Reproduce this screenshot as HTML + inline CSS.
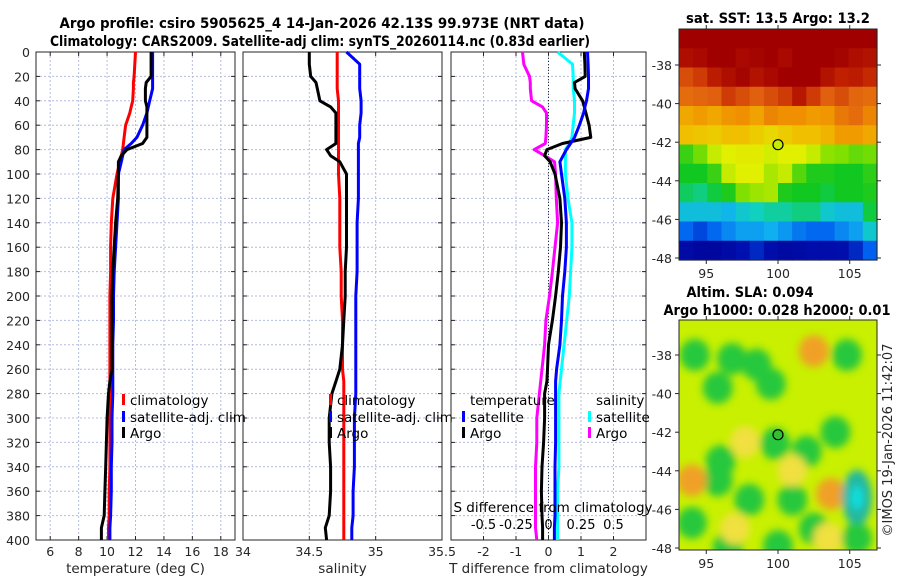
<!DOCTYPE html>
<html><head><meta charset="utf-8"><style>
body{margin:0;background:#fff}
svg{display:block;font-family:"DejaVu Sans","Liberation Sans",sans-serif}
</style></head><body>
<svg id="fig" width="900" height="580" viewBox="0 0 900 580">
<g id="titles" font-weight="bold" font-size="14" fill="#000" text-anchor="middle">
<text x="322" y="28" textLength="525" lengthAdjust="spacingAndGlyphs">Argo profile: csiro 5905625_4 14-Jan-2026 42.13S 99.973E (NRT data)</text>
<text x="320" y="46" textLength="540" lengthAdjust="spacingAndGlyphs">Climatology: CARS2009. Satellite-adj clim: synTS_20260114.nc (0.83d earlier)</text>
<text x="778" y="23" textLength="184" lengthAdjust="spacingAndGlyphs">sat. SST: 13.5 Argo: 13.2</text>
<text x="750" y="297" textLength="127" lengthAdjust="spacingAndGlyphs">Altim. SLA: 0.094</text>
<text x="777" y="315" textLength="227" lengthAdjust="spacingAndGlyphs">Argo h1000: 0.028 h2000: 0.01</text>
</g>
<text x="0" y="0" transform="translate(892,440) rotate(-90)" text-anchor="middle" font-size="13" fill="#262626">©IMOS 19-Jan-2026 11:42:07</text>
<g id="plots"></g>
</svg>
<script>
// ---------- data ----------
const depths = [0,10,20,25,30,40,45,50,60,70,75,80,85,90,100,120,140,160,180,200,220,240,260,270,280,300,320,340,360,380,390,400];
const tempClim = [12.0,11.95,11.9,11.85,11.85,11.8,11.7,11.6,11.3,11.2,11.15,11.1,11.0,10.9,10.7,10.4,10.3,10.25,10.25,10.2,10.2,10.2,10.2,10.2,10.2,10.2,10.2,10.2,10.15,10.15,10.1,10.1];
const tempSat = [13.2,13.2,13.2,13.2,13.2,13.0,12.9,12.8,12.5,12.1,11.7,11.2,11.1,11.0,10.8,10.8,10.7,10.6,10.5,10.45,10.45,10.4,10.4,10.4,10.4,10.35,10.35,10.3,10.3,10.25,10.2,10.2];
const tempArgo = [13.1,13.1,13.1,12.75,12.7,12.7,12.8,12.8,12.8,12.8,12.5,11.4,11.0,10.8,10.8,10.75,10.6,10.5,10.4,10.35,10.35,10.35,10.35,10.2,10.1,10.0,9.95,9.9,9.85,9.8,9.6,9.6];
const salClim = [34.71,34.71,34.71,34.71,34.71,34.72,34.72,34.72,34.72,34.72,34.72,34.72,34.72,34.72,34.72,34.73,34.73,34.73,34.74,34.74,34.75,34.75,34.75,34.76,34.76,34.76,34.76,34.76,34.76,34.76,34.76,34.76];
const salSat = [34.78,34.88,34.88,34.88,34.88,34.89,34.89,34.89,34.88,34.88,34.87,34.87,34.87,34.87,34.87,34.87,34.86,34.86,34.86,34.85,34.85,34.85,34.85,34.85,34.85,34.84,34.84,34.84,34.83,34.83,34.82,34.82];
const salArgo = [34.5,34.5,34.51,34.55,34.56,34.58,34.66,34.7,34.7,34.7,34.7,34.63,34.66,34.73,34.78,34.78,34.78,34.78,34.77,34.77,34.76,34.75,34.73,34.7,34.67,34.65,34.65,34.66,34.66,34.65,34.62,34.63];
const tDiffSat = [1.2,1.22,1.23,1.23,1.23,1.17,1.12,1.08,0.95,0.8,0.68,0.55,0.45,0.35,0.4,0.5,0.55,0.55,0.5,0.43,0.4,0.35,0.25,0.22,0.22,0.22,0.22,0.2,0.2,0.2,0.18,0.18];
const tDiffArgo = [1.1,1.12,1.13,0.8,0.82,1.05,1.1,1.15,1.25,1.3,0.43,-0.05,-0.12,0.05,0.2,0.35,0.4,0.37,0.3,0.22,0.12,0.0,-0.03,-0.05,-0.12,-0.12,-0.15,-0.2,-0.22,-0.2,-0.18,-0.18];
const sDiffSat = [0.07,0.185,0.19,0.19,0.19,0.2,0.2,0.2,0.19,0.18,0.16,0.13,0.13,0.13,0.13,0.15,0.18,0.18,0.17,0.16,0.14,0.12,0.1,0.09,0.08,0.08,0.08,0.08,0.07,0.07,0.07,0.07];
const sDiffArgo = [-0.2,-0.19,-0.146,-0.14,-0.14,-0.13,-0.046,-0.015,-0.015,-0.02,-0.025,-0.11,-0.03,0.046,0.055,0.06,0.07,0.05,0.03,0.008,-0.02,-0.03,-0.05,-0.06,-0.07,-0.09,-0.09,-0.1,-0.1,-0.1,-0.1,-0.09];
const depthTicks = [0,20,40,60,80,100,120,140,160,180,200,220,240,260,280,300,320,340,360,380,400];
const tempTicks = [6,8,10,12,14,16,18];
const salTicks = [34,34.5,35,35.5];
const tdTicks = [-2,-1,0,1,2];
const sdTicks = [-0.5,-0.25,0,0.25,0.5];
const latTicks = [-38,-40,-42,-44,-46,-48];
const lonTicks = [95,100,105];
// SST map: rows from north (-36.1) to south, 14 columns (93.1E..106.9E), colour index 0..1
const sstGrid = [
[1,1,1,1,1,1,1,1,1,1,1,1,1,1],
[0.97,0.98,1,1,0.98,0.99,1,0.98,1,1,1,0.99,0.97,0.96],
[0.88,0.9,0.94,0.97,0.99,0.96,0.98,1,1,1,0.96,0.93,0.94,0.92],
[0.84,0.85,0.86,0.9,0.88,0.86,0.88,0.9,0.95,0.9,0.86,0.88,0.85,0.84],
[0.74,0.76,0.74,0.77,0.78,0.75,0.8,0.78,0.78,0.76,0.77,0.82,0.84,0.8],
[0.7,0.69,0.68,0.7,0.7,0.68,0.66,0.68,0.7,0.7,0.72,0.76,0.76,0.74],
[0.5,0.54,0.6,0.62,0.63,0.63,0.61,0.62,0.62,0.6,0.56,0.55,0.53,0.54],
[0.47,0.47,0.5,0.6,0.62,0.62,0.58,0.6,0.52,0.48,0.48,0.47,0.47,0.49],
[0.45,0.44,0.46,0.48,0.55,0.57,0.58,0.48,0.47,0.47,0.46,0.47,0.47,0.48],
[0.38,0.38,0.38,0.36,0.4,0.42,0.43,0.43,0.44,0.44,0.4,0.38,0.38,0.46],
[0.26,0.22,0.26,0.3,0.33,0.33,0.35,0.32,0.28,0.26,0.26,0.3,0.33,0.4],
[0.1,0.07,0.07,0.1,0.15,0.18,0.12,0.08,0.1,0.12,0.12,0.13,0.18,0.25]];
// SLA map blobs
const slaLon = [94.2,96.8,95.8,98.5,102.5,96,97.7,99.8,102,104,95.8,98,101,103.7,104.8,105.5,94,96.5,100,94,102.5,103.5,97,101,105.5,99.5];
const slaLat = [-38,-38.2,-39.7,-38.5,-37.8,-43.5,-42.5,-42.6,-43,-42,-44.5,-45.5,-45.5,-45.2,-38,-45.4,-46.7,-48,-47.9,-44.5,-47,-47.5,-47,-44,-47.5,-39.5];
const slaKind = ['g','g','g','g','o','g','y','g','g','g','g','g','g','o','g','c','g','g','g','o','g','y','y','y','g','g'];

// ---------- helpers ----------
const NS='http://www.w3.org/2000/svg';
const root=document.getElementById('plots');
function mk(tag,attrs,parent){const e=document.createElementNS(NS,tag);for(const k in attrs)e.setAttribute(k,attrs[k]);(parent||root).appendChild(e);return e;}
const Y0=52,Y1=540;
function yD(d){return Y0+(d/400)*(Y1-Y0);}
function lin(d0,d1,p0,p1){return v=>p0+(v-d0)/(d1-d0)*(p1-p0);}

function panel(name,x0,x1,xs,ticks,labelFmt,xlabel,showY){
  const g=mk('g',{});
  
  
  depthTicks.forEach(d=>{if(d>0&&d<400)mk('line',{x1:x0,x2:x1,y1:yD(d),y2:yD(d),stroke:'#b4bce0','stroke-width':1,'stroke-dasharray':'2,2'},g);});
  ticks.forEach(t=>{const x=xs(t);if(x>x0+1&&x<x1-1)mk('line',{x1:x,x2:x,y1:Y0,y2:Y1,stroke:'#b4bce0','stroke-width':1,'stroke-dasharray':'2,2'},g);});
  mk('rect',{x:x0,y:Y0,width:x1-x0,height:Y1-Y0,fill:'none',stroke:'#262626','stroke-width':1},g);
  depthTicks.forEach(d=>{mk('line',{x1:x0,x2:x0+4,y1:yD(d),y2:yD(d),stroke:'#262626'},g);mk('line',{x1:x1-4,x2:x1,y1:yD(d),y2:yD(d),stroke:'#262626'},g);
    if(showY){const t=mk('text',{x:x0-6,y:yD(d)+5,'text-anchor':'end','font-size':12.5,fill:'#262626'},g);t.textContent=d;}});
  ticks.forEach(t=>{const x=xs(t);mk('line',{x1:x,x2:x,y1:Y1-4,y2:Y1,stroke:'#262626'},g);mk('line',{x1:x,x2:x,y1:Y0,y2:Y0+4,stroke:'#262626'},g);
    const tx=mk('text',{x:x,y:Y1+16,'text-anchor':'middle','font-size':12.5,fill:'#262626'},g);tx.textContent=labelFmt(t);});
  const xl=mk('text',{x:(x0+x1)/2,y:Y1+33,'text-anchor':'middle','font-size':13.5,fill:'#262626'},g);
  xl.textContent=xlabel;
  
  
  return g;
}
function series(g,name,vals,xs,color){
  const pts=vals.map((v,i)=>xs(v).toFixed(1)+','+yD(depths[i]).toFixed(1)).join(' ');
  const p=mk('polyline',{points:pts,fill:'none',stroke:color,'stroke-width':3,'stroke-linejoin':'round'},g);
  
  
}
function legend(g,x,y,color,label,name){
  const le=mk('g',{},g);
  
  
  mk('rect',{x:x,y:y-11,width:3,height:11,fill:color},le);
  const t=mk('text',{x:x+8,y:y,'font-size':13.5,fill:'#000'},le);t.textContent=label;
}

// Panel 1: temperature
const xT=lin(5,19,36,235);
const p1=panel('temperature-panel',36,235,xT,tempTicks,t=>t,'temperature (deg C)',true);
series(p1,'temp-climatology-line',tempClim,xT,'#ff0000');
series(p1,'temp-satellite-line',tempSat,xT,'#0000ff');
series(p1,'temp-argo-line',tempArgo,xT,'#000000');
legend(p1,122,405,'#ff0000','climatology','legend-climatology');
legend(p1,122,422,'#0000ff','satellite-adj. clim','legend-satellite');
legend(p1,122,438,'#000000','Argo','legend-argo');

// Panel 2: salinity
const xS=lin(34,35.5,243,442);
const p2=panel('salinity-panel',243,442,xS,salTicks,t=>t,'salinity',false);
series(p2,'sal-climatology-line',salClim,xS,'#ff0000');
series(p2,'sal-satellite-line',salSat,xS,'#0000ff');
series(p2,'sal-argo-line',salArgo,xS,'#000000');
legend(p2,329,405,'#ff0000','climatology','legend-climatology-sal');
legend(p2,329,422,'#0000ff','satellite-adj. clim','legend-satellite-sal');
legend(p2,329,438,'#000000','Argo','legend-argo-sal');

// Panel 3: differences
const xTD=lin(-3,3,451,646);
const xSD=lin(-0.75,0.75,451,646);
const p3=panel('difference-panel',451,646,xTD,tdTicks,t=>t,'T difference from climatology',false);
mk('line',{x1:xTD(0),x2:xTD(0),y1:Y0,y2:Y1,stroke:'#333','stroke-width':1,'stroke-dasharray':'1,2'},p3);
series(p3,'sdiff-argo-line',sDiffArgo,xSD,'#ff00ff');
series(p3,'sdiff-satellite-line',sDiffSat,xSD,'#00ffff');
series(p3,'tdiff-argo-line',tDiffArgo,xTD,'#000000');
series(p3,'tdiff-satellite-line',tDiffSat,xTD,'#0000ff');
{const t=mk('text',{x:470,y:405,'font-size':13.5,fill:'#000'},p3);t.textContent='temperature';
 const t2=mk('text',{x:596,y:405,'font-size':13.5,fill:'#000'},p3);t2.textContent='salinity';}
legend(p3,462,422,'#0000ff','satellite','legend-t-satellite');
legend(p3,462,438,'#000000','Argo','legend-t-argo');
legend(p3,588,422,'#00ffff','satellite','legend-s-satellite');
legend(p3,588,438,'#ff00ff','Argo','legend-s-argo');
{const t=mk('text',{x:553,y:512,'text-anchor':'middle','font-size':13.5,fill:'#000'},p3);t.textContent='S difference from climatology';
 
 
 sdTicks.forEach(s=>{const tx=mk('text',{x:xSD(s),y:529,'text-anchor':'middle','font-size':13,fill:'#000'},p3);tx.textContent=s;});}

// ---------- maps ----------
const cStops=[[0,[0,0,144]],[0.15,[0,16,176]],[0.25,[0,96,240]],[0.35,[16,176,240]],[0.42,[16,208,192]],[0.47,[16,200,32]],[0.55,[128,224,0]],[0.62,[224,240,0]],[0.7,[240,192,0]],[0.78,[240,144,0]],[0.86,[224,96,16]],[0.93,[192,32,0]],[1,[160,0,0]]];
function cmap(v){v=Math.max(0,Math.min(1,v));
  for(let i=1;i<cStops.length;i++){if(v<=cStops[i][0]){const a=cStops[i-1],b=cStops[i];const f=(v-a[0])/(b[0]-a[0]);
    return 'rgb('+a[1].map((c,j)=>Math.round(c+(b[1][j]-c)*f)).join(',')+')';}}
  return 'rgb(160,0,0)';}
const MX0=679,MX1=877;
const lonX=lin(93.1,106.9,MX0,MX1);
function mapAxes(g,latY,y0,y1){
  mk('rect',{x:MX0,y:y0,width:MX1-MX0,height:y1-y0,fill:'none',stroke:'#262626'},g);
  latTicks.forEach(l=>{const y=latY(l);mk('line',{x1:MX0-4,x2:MX0,y1:y,y2:y,stroke:'#262626'},g);mk('line',{x1:MX1,x2:MX1+4,y1:y,y2:y,stroke:'#262626'},g);
    const t=mk('text',{x:MX0-7,y:y+5,'text-anchor':'end','font-size':12.5,fill:'#262626'},g);t.textContent=l;});
  lonTicks.forEach(l=>{const x=lonX(l);mk('line',{x1:x,x2:x,y1:y1,y2:y1+4,stroke:'#262626'},g);mk('line',{x1:x,x2:x,y1:y0-4,y2:y0,stroke:'#262626'},g);
    const t=mk('text',{x:x,y:y1+18,'text-anchor':'middle','font-size':12.5,fill:'#262626'},g);t.textContent=l;});
}
// SST map
const sstY=lin(-38,-48,65,258);
const m1=mk('g',{});


const cw=(MX1-MX0)/14, ch=(260-29)/12;
sstGrid.forEach((row,r)=>row.forEach((v,c)=>{
  const cell=mk('rect',{x:(MX0+c*cw).toFixed(2),y:(29+r*ch).toFixed(2),width:(cw+0.6).toFixed(2),height:(ch+0.6).toFixed(2),fill:cmap(v)},m1);
  
  
}));
mapAxes(m1,sstY,29,260);
{const c=mk('circle',{cx:lonX(100),cy:sstY(-42.13),r:5,fill:cmap(0.6),stroke:'#000','stroke-width':1.2},m1);
 
 }

// SLA map
const slaY=lin(-38,-48,355,548);
const m2=mk('g',{});


const defs=mk('defs',{},m2);
const f=mk('filter',{id:'blur',x:'-50%',y:'-50%',width:'200%',height:'200%'},defs);
mk('feGaussianBlur',{stdDeviation:4},f);
const cp=mk('clipPath',{id:'slaclip'},defs);
mk('rect',{x:MX0,y:320,width:MX1-MX0,height:230},cp);
const inner=mk('g',{'clip-path':'url(#slaclip)'},m2);
mk('rect',{x:MX0,y:320,width:MX1-MX0,height:230,fill:'#c8f000'},inner);
const blobG=mk('g',{filter:'url(#blur)'},inner);
const colors={g:'#28c83c',o:'#f0a028',y:'#f0e040',c:'#20b8a0'};
slaLon.forEach((lo,i)=>{
  const k=slaKind[i];
  const e=mk('ellipse',{cx:lonX(lo),cy:slaY(slaLat[i]),rx:k==='c'?15:15,ry:k==='c'?28:16,fill:colors[k]},blobG);
  
  
  if(k==='c'){mk('ellipse',{cx:lonX(lo),cy:slaY(slaLat[i]),rx:6,ry:12,fill:'#10e0e0'},blobG);}
});
mapAxes(m2,slaY,320,550);
{const c=mk('circle',{cx:lonX(100),cy:slaY(-42.13),r:5,fill:'#30c030',stroke:'#000','stroke-width':1.2},m2);
 
 }
</script>
</body></html>
